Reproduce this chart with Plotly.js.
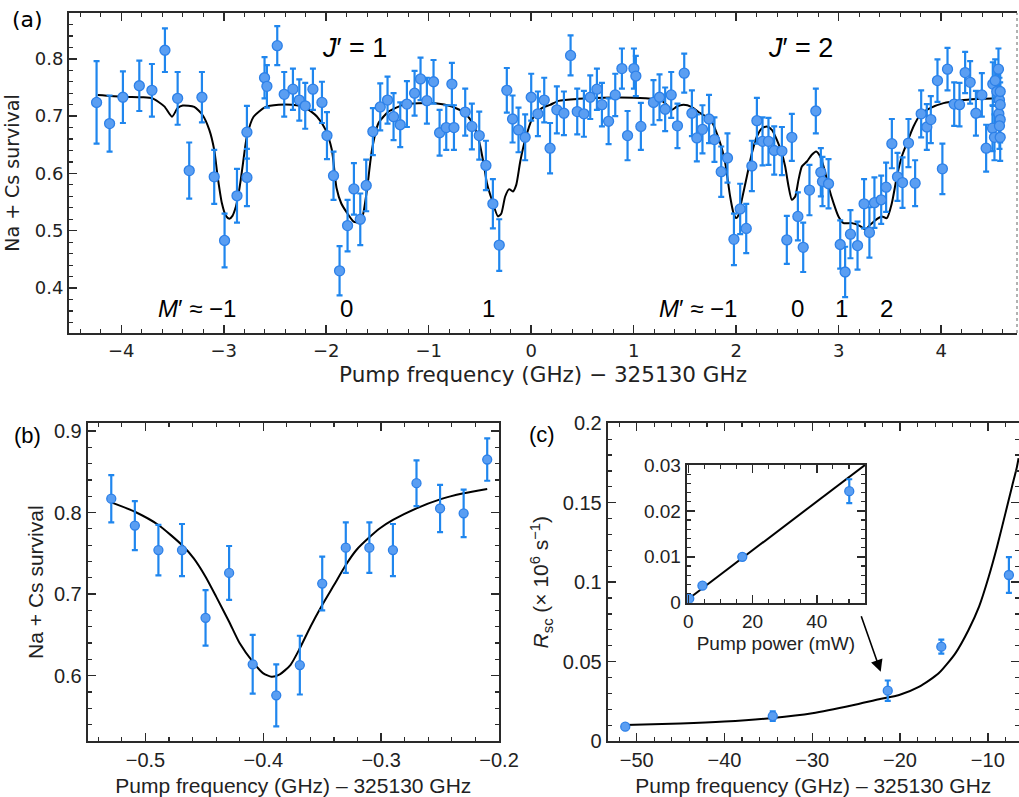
<!DOCTYPE html>
<html>
<head>
<meta charset="utf-8">
<script src="https://cdn.plot.ly/plotly-3.0.1.min.js"></script>
<style>html,body{margin:0;padding:0;background:#fff;}#chart{width:1019px;height:797px;}</style>
</head>
<body>
<div id="chart"></div>
<script>
// ---------- Panel (a) data ----------
const aFreq = [-4.241,-4.114,-3.984,-3.824,-3.701,-3.574,-3.450,-3.337,-3.213,-3.093,-2.992,-2.871,-2.774,-2.774,-2.602,-2.579,-2.478,-2.410,-2.325,-2.263,-2.205,-2.130,-2.042,-1.993,-1.929,-1.870,-1.792,-1.730,-1.668,-1.610,-1.545,-1.473,-1.402,-1.343,-1.278,-1.213,-1.138,-1.080,-1.018,-0.953,-0.894,-0.829,-0.774,-0.754,-0.644,-0.579,-0.507,-0.442,-0.374,-0.312,-0.238,-0.182,-0.124,-0.059,0.000,0.065,0.127,0.184,0.250,0.319,0.384,0.449,0.514,0.576,0.641,0.690,0.755,0.820,0.885,0.940,1.002,1.021,1.070,1.193,1.252,1.307,1.366,1.427,1.493,1.568,1.616,1.671,1.735,1.788,1.854,1.915,1.978,2.039,2.098,2.153,2.202,2.257,2.315,2.371,2.446,2.494,2.543,2.602,2.654,2.715,2.777,2.826,2.842,2.901,3.015,3.063,3.115,3.184,3.248,3.300,3.349,3.415,3.463,3.519,3.574,3.623,3.681,3.746,3.805,3.860,3.899,3.964,4.012,4.062,4.127,4.179,4.234,4.283,4.339,4.397,4.439,4.501,4.504,4.520,4.527,4.543,4.559,4.563,4.569,4.576,4.576,4.576,4.569,4.576];
const aSurv = [0.724,0.687,0.733,0.753,0.745,0.815,0.731,0.605,0.733,0.594,0.483,0.561,0.672,0.593,0.767,0.752,0.823,0.738,0.747,0.728,0.718,0.747,0.724,0.666,0.596,0.430,0.509,0.573,0.520,0.579,0.673,0.716,0.728,0.699,0.685,0.721,0.740,0.765,0.727,0.760,0.671,0.680,0.756,0.680,0.707,0.682,0.666,0.614,0.547,0.475,0.745,0.695,0.676,0.663,0.733,0.704,0.728,0.644,0.711,0.705,0.806,0.708,0.704,0.733,0.747,0.720,0.691,0.737,0.783,0.666,0.783,0.770,0.682,0.724,0.733,0.712,0.737,0.683,0.775,0.705,0.662,0.677,0.695,0.659,0.603,0.627,0.485,0.538,0.504,0.613,0.692,0.656,0.656,0.640,0.639,0.484,0.663,0.525,0.471,0.571,0.709,0.602,0.586,0.582,0.476,0.428,0.494,0.474,0.547,0.497,0.549,0.554,0.576,0.652,0.594,0.584,0.653,0.583,0.704,0.681,0.694,0.762,0.608,0.782,0.721,0.720,0.776,0.759,0.705,0.737,0.644,0.679,0.756,0.663,0.762,0.743,0.782,0.704,0.728,0.743,0.720,0.694,0.683,0.663];
const aErr = [0.072,0.049,0.045,0.044,0.046,0.038,0.046,0.049,0.044,0.047,0.047,0.047,0.046,0.050,0.036,0.037,0.034,0.039,0.036,0.036,0.040,0.036,0.036,0.041,0.042,0.043,0.045,0.045,0.045,0.045,0.041,0.041,0.041,0.041,0.039,0.040,0.039,0.037,0.040,0.038,0.040,0.039,0.037,0.039,0.041,0.040,0.042,0.043,0.043,0.045,0.039,0.041,0.039,0.040,0.041,0.039,0.039,0.044,0.041,0.038,0.035,0.040,0.040,0.038,0.036,0.038,0.040,0.037,0.035,0.043,0.035,0.035,0.041,0.039,0.040,0.038,0.040,0.039,0.034,0.040,0.041,0.042,0.042,0.039,0.044,0.043,0.045,0.044,0.043,0.044,0.040,0.042,0.041,0.042,0.042,0.042,0.041,0.042,0.043,0.044,0.039,0.042,0.043,0.043,0.042,0.044,0.042,0.042,0.043,0.044,0.044,0.042,0.043,0.043,0.042,0.044,0.042,0.040,0.041,0.040,0.041,0.037,0.044,0.037,0.038,0.038,0.036,0.037,0.039,0.038,0.041,0.040,0.038,0.040,0.037,0.038,0.036,0.039,0.039,0.038,0.039,0.040,0.040,0.041];
const aFitFreq = [-4.23,-3.99,-3.80,-3.695,-3.58,-3.505,-3.45,-3.40,-3.288,-3.207,-3.141,-3.093,-3.06,-3.018,-2.979,-2.945,-2.915,-2.885,-2.860,-2.835,-2.812,-2.774,-2.709,-2.595,-2.465,-2.335,-2.205,-2.091,-2.01,-1.945,-1.90,-1.854,-1.80,-1.733,-1.685,-1.646,-1.603,-1.554,-1.49,-1.392,-1.327,-1.229,-1.099,-0.937,-0.774,-0.644,-0.563,-0.504,-0.465,-0.432,-0.384,-0.325,-0.293,-0.254,-0.215,-0.179,-0.146,-0.107,-0.059,0.006,0.104,0.185,0.266,0.462,0.787,1.112,1.259,1.324,1.372,1.421,1.486,1.568,1.649,1.746,1.844,1.893,1.941,1.974,2.0,2.023,2.055,2.104,2.153,2.202,2.251,2.3,2.348,2.397,2.446,2.478,2.511,2.543,2.576,2.608,2.641,2.690,2.738,2.780,2.820,2.862,2.901,2.950,2.998,3.047,3.129,3.210,3.259,3.307,3.372,3.421,3.470,3.519,3.568,3.616,3.665,3.730,3.795,3.893,4.023,4.185,4.348,4.576];
const aFitSurv = [0.737,0.734,0.733,0.731,0.717,0.699,0.714,0.7185,0.716,0.702,0.676,0.641,0.595,0.548,0.526,0.521,0.526,0.540,0.560,0.588,0.618,0.665,0.699,0.7157,0.7197,0.7197,0.715,0.6994,0.6773,0.641,0.575,0.548,0.532,0.516,0.5145,0.525,0.571,0.641,0.688,0.708,0.714,0.721,0.7227,0.7227,0.7168,0.7052,0.6848,0.6528,0.618,0.583,0.554,0.525,0.5295,0.5597,0.5726,0.5684,0.58,0.6208,0.6586,0.6936,0.714,0.7197,0.7267,0.7302,0.7325,0.7314,0.7284,0.7197,0.711,0.7168,0.7197,0.7157,0.7052,0.6947,0.6528,0.618,0.5597,0.5307,0.522,0.5277,0.5539,0.5946,0.6353,0.6644,0.679,0.6819,0.6761,0.6586,0.6353,0.612,0.5772,0.5539,0.5597,0.5888,0.612,0.6208,0.6325,0.6382,0.6295,0.6063,0.5772,0.5482,0.5249,0.5133,0.5133,0.508,0.502,0.5103,0.5203,0.5249,0.522,0.5482,0.5946,0.6295,0.6528,0.6819,0.7023,0.714,0.7227,0.7273,0.7297,0.7314];

// ---------- Panel (b) data ----------
const bFreq = [-0.529,-0.509,-0.489,-0.469,-0.449,-0.429,-0.409,-0.389,-0.369,-0.350,-0.330,-0.310,-0.290,-0.270,-0.250,-0.230,-0.210];
const bSurv = [0.817,0.784,0.754,0.754,0.671,0.726,0.614,0.576,0.613,0.713,0.757,0.757,0.754,0.836,0.805,0.799,0.865];
const bErr = [0.029,0.030,0.031,0.032,0.034,0.033,0.036,0.038,0.036,0.033,0.031,0.031,0.032,0.028,0.029,0.029,0.026];
const bFitFreq = [-0.529,-0.509,-0.489,-0.469,-0.459,-0.449,-0.440,-0.429,-0.420,-0.409,-0.400,-0.393,-0.386,-0.377,-0.369,-0.360,-0.350,-0.340,-0.330,-0.321,-0.310,-0.301,-0.290,-0.270,-0.250,-0.230,-0.210];
const bFitSurv = [0.8125,0.801,0.7848,0.7602,0.7439,0.7214,0.697,0.6662,0.6397,0.6172,0.6029,0.5988,0.6017,0.6131,0.6336,0.6601,0.6867,0.7112,0.7357,0.7541,0.7696,0.7807,0.7909,0.8052,0.8162,0.8236,0.8289];

// ---------- Panel (c) data ----------
const cFreq = [-51.3,-34.5,-21.4,-15.3,-7.6];
const cRate = [0.0090,0.0157,0.0317,0.0594,0.1045];
const cErr = [0.0012,0.0030,0.0064,0.0044,0.0113];
const cFitFreq = [-51.3,-45,-40,-34.5,-30,-25.4,-22.4,-20.1,-17.8,-15.6,-13.7,-12.2,-11.0,-9.9,-8.95,-8.0,-7.25,-6.68,-6.5];
const cFitRate = [0.0101,0.0110,0.0122,0.0145,0.0175,0.0225,0.0263,0.0290,0.0342,0.0426,0.0552,0.0699,0.0846,0.1034,0.1223,0.1433,0.1601,0.1727,0.178];

// ---------- Inset data ----------
const insPower = [0.3,4.4,16.8,50.1];
const insRate = [0.0009,0.0037,0.0100,0.0243];
const insErr = [0.0003,0.0004,0.0006,0.0026];
const insFitPower = [0,55];
const insFitRate = [0.0008,0.0300];

const W = 1019, H = 797;
const px = X => X / W;
const py = Y => 1 - Y / H;

const mFill = '#5a9ef2', mEdge = '#2d80e8', eCol = '#1f86ee';
function pts(x, y, e, xa, ya, size) {
  return {x: x, y: y, xaxis: xa, yaxis: ya, type: 'scatter', mode: 'markers',
    marker: {size: size, color: mFill, line: {color: mEdge, width: 1.3}},
    error_y: {type: 'data', array: e, visible: true, color: eCol, thickness: 2.2, width: 3},
    hoverinfo: 'skip', showlegend: false};
}
function fit(x, y, xa, ya, spline) {
  return {x: x, y: y, xaxis: xa, yaxis: ya, type: 'scatter', mode: 'lines',
    line: {color: '#000', width: 2, shape: spline ? 'spline' : 'linear', smoothing: 0.6},
    hoverinfo: 'skip', showlegend: false};
}

const data = [
  fit(aFitFreq, aFitSurv, 'x', 'y', true),
  pts(aFreq, aSurv, aErr, 'x', 'y', 10),
  fit(bFitFreq, bFitSurv, 'x2', 'y2', true),
  pts(bFreq, bSurv, bErr, 'x2', 'y2', 9),
  fit(cFitFreq, cFitRate, 'x3', 'y3', true),
  pts(cFreq, cRate, cErr, 'x3', 'y3', 9),
  fit(insFitPower, insFitRate, 'x4', 'y4', false),
  pts(insPower, insRate, insErr, 'x4', 'y4', 9)
];

const AX = '#2a2a2a';
const fA = 'DejaVu Sans', fB = 'Liberation Sans';
function axis(o) {
  return Object.assign({
    showline: true, linecolor: AX, linewidth: 2, mirror: 'allticks',
    ticks: 'inside', ticklen: 8, tickwidth: 1.5, tickcolor: AX,
    showgrid: false, zeroline: false, fixedrange: true, automargin: false,
    tickfont: {family: fB, size: 20, color: '#222'}
  }, o);
}
function lab(text, X, Y, fam, size) {
  return {text: text, xref: 'paper', yref: 'paper', x: px(X), y: py(Y), xanchor: 'center', yanchor: 'middle',
    showarrow: false, font: {family: fam, size: size, color: '#000'}};
}

const layout = {
  width: W, height: H, margin: {l: 0, r: 0, t: 0, b: 0},
  paper_bgcolor: '#fff', plot_bgcolor: 'rgba(0,0,0,0)',
  showlegend: false,
  xaxis: axis({domain: [px(69), px(1017)], range: [-4.51, 4.74], anchor: 'y',
    tickvals: [-4,-3,-2,-1,0,1,2,3,4],
    minor: {dtick: 0.2, ticks: 'inside', ticklen: 4, tickcolor: AX, tickwidth: 1.2},
    tickfont: {family: fA, size: 18, color: '#222'},
    title: {text: 'Pump frequency (GHz) − 325130 GHz', font: {family: fA, size: 21.5, color: '#222'}, standoff: 7}}),
  yaxis: axis({domain: [py(333), py(13)], range: [0.3215, 0.880], anchor: 'x', mirror: false,
    tickvals: [0.4,0.5,0.6,0.7,0.8], ticktext: ['0.4','0.5','0.6','0.7','0.8'],
    minor: {dtick: 0.02, tick0: 0, ticks: 'inside', ticklen: 4, tickcolor: AX, tickwidth: 1.2},
    tickfont: {family: fA, size: 18, color: '#222'},
    title: {text: 'Na + Cs survival', font: {family: fA, size: 19, color: '#222'}, standoff: 10}}),
  yaxis5: axis({domain: [py(333), py(13)], range: [0.3215, 0.880], anchor: 'x', overlaying: 'y', side: 'right',
    showline: false, mirror: false, showticklabels: false,
    tickvals: [0.4,0.5,0.6,0.7,0.8],
    minor: {dtick: 0.02, tick0: 0, ticks: 'inside', ticklen: 4, tickcolor: '#888', tickwidth: 1.2}}),
  xaxis2: axis({domain: [px(87.7), px(499)], range: [-0.549, -0.2], anchor: 'y2',
    tickvals: [-0.5,-0.4,-0.3,-0.2], ticktext: ['−0.5','−0.4','−0.3','−0.2'],
    minor: {dtick: 0.02, tick0: 0, ticks: 'inside', ticklen: 4, tickcolor: AX, tickwidth: 1.2},
    title: {text: 'Pump frequency (GHz) – 325130 GHz', font: {family: fB, size: 21, color: '#222'}, standoff: 8}}),
  yaxis2: axis({domain: [py(741), py(423.3)], range: [0.52, 0.9094], anchor: 'x2',
    tickvals: [0.6,0.7,0.8,0.9], ticktext: ['0.6','0.7','0.8','0.9'],
    minor: {dtick: 0.02, tick0: 0, ticks: 'inside', ticklen: 4, tickcolor: AX, tickwidth: 1.2},
    title: {text: 'Na + Cs survival', font: {family: fB, size: 21, color: '#222'}, standoff: 5}}),
  xaxis3: axis({domain: [px(607.7), 1], range: [-53.3, -6.45], anchor: 'y3',
    tickvals: [-50,-40,-30,-20,-10], ticktext: ['−50','−40','−30','−20','−10'],
    minor: {dtick: 2, tick0: 0, ticks: 'inside', ticklen: 4, tickcolor: AX, tickwidth: 1.2},
    title: {text: 'Pump frequency (GHz) – 325130 GHz', font: {family: fB, size: 21, color: '#222'}, standoff: 8}}),
  yaxis3: axis({domain: [py(741), py(423.3)], range: [0, 0.2], anchor: 'x3',
    tickvals: [0,0.05,0.1,0.15,0.2], ticktext: ['0','0.05','0.1','0.15','0.2'],
    minor: {dtick: 0.01, tick0: 0, ticks: 'inside', ticklen: 4, tickcolor: AX, tickwidth: 1.2},
    title: {text: '<i>R</i><sub>sc</sub> (× 10<sup>6</sup> s<sup>−1</sup>)', font: {family: fB, size: 21, color: '#222'}, standoff: 8}}),
  xaxis4: axis({domain: [px(686.7), px(865)], range: [-0.5, 55], anchor: 'y4',
    tickvals: [0,20,40],
    minor: {dtick: 5, tick0: 0, ticks: 'inside', ticklen: 4, tickcolor: AX, tickwidth: 1.2},
    tickfont: {family: fB, size: 19, color: '#222'},
    title: {text: 'Pump power (mW)', font: {family: fB, size: 19, color: '#222'}, standoff: 6}}),
  yaxis4: axis({domain: [py(602.7), py(465)], range: [0, 0.03], anchor: 'x4',
    tickvals: [0,0.01,0.02,0.03], ticktext: ['0','0.01','0.02','0.03'],
    minor: {dtick: 0.002, tick0: 0, ticks: 'inside', ticklen: 4, tickcolor: AX, tickwidth: 1.2},
    tickfont: {family: fB, size: 19, color: '#222'}}),
  shapes: [
    {type: 'line', xref: 'paper', yref: 'paper', x0: px(1017), x1: px(1017), y0: py(333), y1: py(13),
     line: {color: '#999', width: 1.5, dash: 'dot'}},
    {type: 'rect', xref: 'paper', yref: 'paper', x0: px(686.7), x1: px(865), y0: py(602.7), y1: py(465),
     fillcolor: '#fff', line: {width: 0}, layer: 'below'}
  ],
  annotations: [
    lab('(a)', 27, 20, fA, 22),
    lab('(b)', 27, 436, fB, 22),
    lab('(c)', 542, 434, fB, 22),
    lab('<i>J</i>′ = 1', 354, 48, fB, 27),
    lab('<i>J</i>′ = 2', 800, 48, fB, 27),
    lab('<i>M</i>′ ≈ −1', 197, 309, fB, 24),
    lab('0', 346, 309, fB, 24),
    lab('1', 488, 309, fB, 24),
    lab('<i>M</i>′ ≈ −1', 698, 309, fB, 24),
    lab('0', 797, 309, fB, 24),
    lab('1', 841, 309, fB, 24),
    lab('2', 886, 309, fB, 24),
    {text: '', xref: 'x3', yref: 'y3', x: -22.2, y: 0.0436, ax: -20, ay: -57, showarrow: true,
     arrowhead: 2, arrowsize: 1.5, arrowwidth: 1.6, arrowcolor: '#000'}
  ]
};

Plotly.newPlot('chart', data, layout, {staticPlot: true, displayModeBar: false});
</script>
</body>
</html>
